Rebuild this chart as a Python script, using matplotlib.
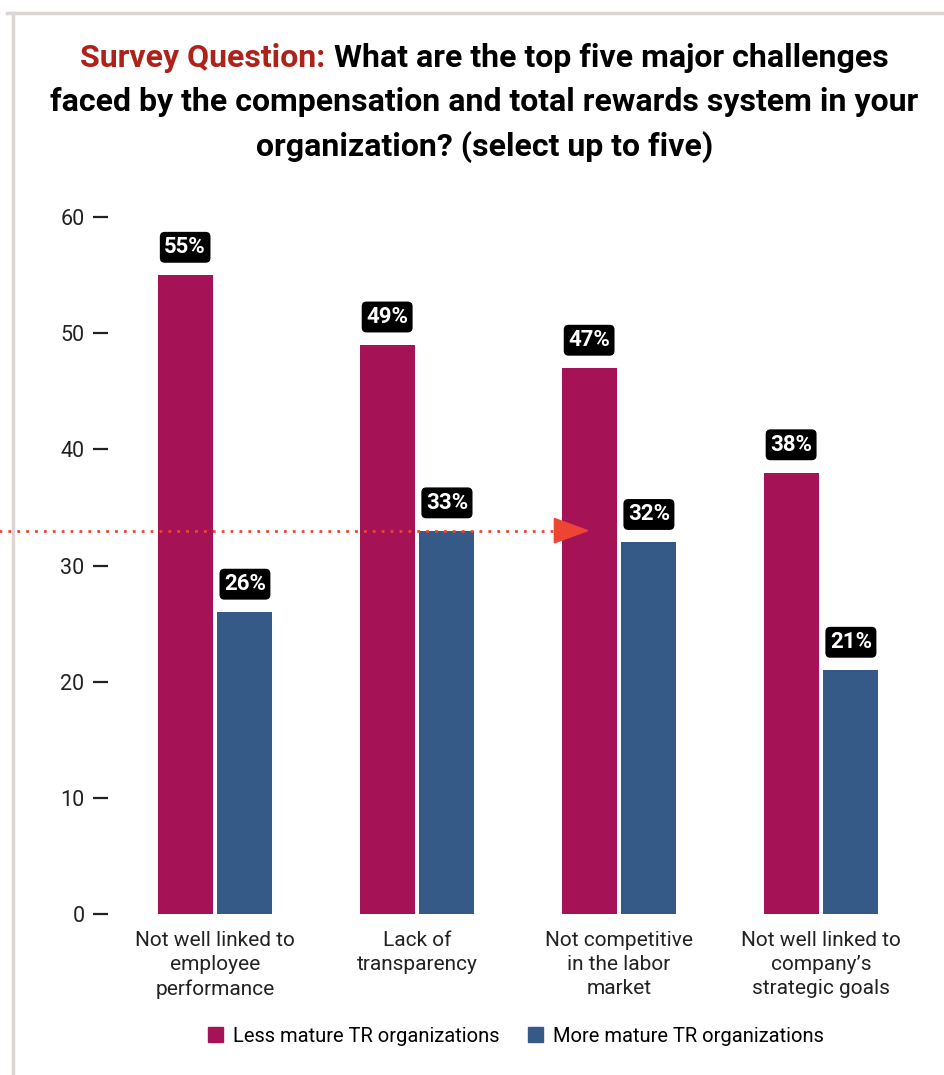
import matplotlib
matplotlib.use("Agg")
from matplotlib import pyplot as plt
from matplotlib.lines import Line2D
from matplotlib.patches import Polygon, Patch
import numpy as np

plt.rcParams["font.family"] = ["Roboto", "DejaVu Sans"]

categories = ["Not well linked to\nemployee\nperformance",
              "Lack of\ntransparency",
              "Not competitive\nin the labor\nmarket",
              "Not well linked to\ncompany\u2019s\nstrategic goals"]
less_mature = [55, 49, 47, 38]
more_mature = [26, 33, 32, 21]
series_names = ["Less mature TR organizations", "More mature TR organizations"]
y_ticks = [0, 10, 20, 30, 40, 50, 60]
ref_level = 33

title_lead = "Survey Question:"
title_lines = ["What are the top five major challenges",
               "faced by the compensation and total rewards system in your",
               "organization? (select up to five)"]

red = "#A51356"
blue = "#365A88"
title_red = "#AD2219"
arrow_red = "#EE4434"

W, H = 945, 1075
fig = plt.figure(figsize=(W / 100, H / 100), dpi=100)
ax = fig.add_axes([108 / W, 1 - 914 / H, (922 - 108) / W, (914 - 217) / H])

x = np.arange(len(categories))
w = 0.272
off = 0.148
ax.bar(x - off, less_mature, width=w, color=red, label=series_names[0])
ax.bar(x + off, more_mature, width=w, color=blue, label=series_names[1])

# value tags above each bar
for xs, vals in ((x - off, less_mature), (x + off, more_mature)):
    for xi, v in zip(xs, vals):
        ax.annotate(f"{v}%", (xi, v), xytext=(0, 20), textcoords="offset points",
                    ha="center", va="center", fontsize=16, fontweight="bold",
                    color="white",
                    bbox=dict(boxstyle="round,pad=0.2,rounding_size=0.22",
                              fc="black", ec="none"))

ax.set_xlim(-0.53, 3.5)
ax.set_ylim(0, 60)
ax.set_yticks(y_ticks)
ax.tick_params(axis="y", length=11, width=1.6, pad=6, labelsize=15.5,
               color="#222222", labelcolor="#222222")
ax.set_xticks(x)
ax.set_xticklabels(categories, fontsize=15, color="#222222", linespacing=1.35)
ax.tick_params(axis="x", length=0, pad=12)
for s in ax.spines.values():
    s.set_visible(False)

# dotted reference line with arrow head
ax.plot([-1.07, 1.68], [ref_level, ref_level], color=arrow_red, linestyle=(0, (1, 2.2)),
        linewidth=2, clip_on=False, zorder=5)
ax.add_patch(Polygon([(1.68, ref_level - 1.05), (1.68, ref_level + 1.05), (1.845, ref_level)],
                     closed=True, color=arrow_red, clip_on=False, zorder=5))

# title: red lead-in followed by black question text, each line centred
tsize = 23
line_y = [58, 102, 147]
renderer = fig.canvas.get_renderer()
lead = fig.text(0, 1 - line_y[0] / H, title_lead + " ", ha="left", va="center",
                fontsize=tsize, fontweight="bold", color=title_red)
rest = fig.text(0, 1 - line_y[0] / H, title_lines[0], ha="left", va="center",
                fontsize=tsize, fontweight="bold", color="black")
w_lead = lead.get_window_extent(renderer).width
w_rest = rest.get_window_extent(renderer).width
x0 = (W - w_lead - w_rest) / 2 + 12
lead.set_x(x0 / W)
rest.set_x((x0 + w_lead) / W)
for txt, yy in zip(title_lines[1:], line_y[1:]):
    fig.text((W / 2 + 12) / W, 1 - yy / H, txt, ha="center", va="center",
             fontsize=tsize, fontweight="bold", color="black")

handles = [Patch(color=red), Patch(color=blue)]
fig.legend(handles, series_names, loc="center", bbox_to_anchor=(516 / W, 1 - 1036 / H),
           ncol=2, frameon=False, fontsize=14.5, handlelength=0.75, handleheight=0.8,
           handletextpad=0.5, columnspacing=1.4)

# light frame at top and left
fig.add_artist(Line2D([7 / W, 1], [1 - 13 / H, 1 - 13 / H], color="#DDD4D4", linewidth=2.5))
fig.add_artist(Line2D([13 / W, 13 / W], [0, 1 - 13 / H], color="#DDD4D4", linewidth=2.5))

fig.savefig("out.png", dpi=100)
